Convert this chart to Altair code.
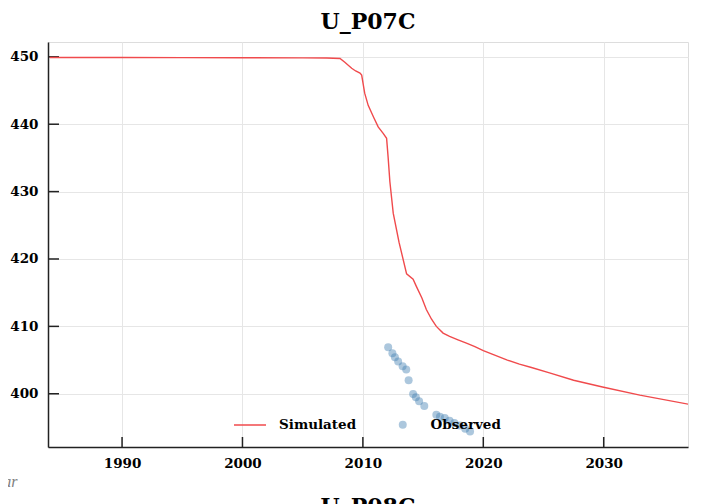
import altair as alt
import pandas as pd

# ---- data ----
sim_year = [1984.0, 1990.0, 1995.0, 2000.0, 2005.0, 2007.0, 2008.1, 2008.5, 2009.07, 2009.4,
            2009.76, 2009.9, 2010.15, 2010.44, 2010.9, 2011.27, 2011.7, 2011.97, 2012.1, 2012.24,
            2012.52, 2013.0, 2013.63, 2014.17, 2014.45, 2014.9, 2015.27, 2015.69, 2016.1, 2016.66,
            2017.2, 2017.9, 2018.6, 2019.3, 2020.0, 2021.0, 2022.0, 2023.0, 2024.0, 2025.5,
            2027.5, 2029.9, 2033.0, 2037.2]
sim_head = [449.9, 449.9, 449.88, 449.86, 449.85, 449.83, 449.75, 449.2, 448.3, 447.9,
            447.6, 447.3, 444.6, 442.8, 441.0, 439.6, 438.6, 437.9, 435.0, 431.5,
            426.8, 422.5, 417.8, 417.0, 415.9, 414.2, 412.5, 411.1, 410.0, 409.0,
            408.5, 408.0, 407.5, 407.0, 406.4, 405.7, 405.0, 404.4, 403.9, 403.1,
            402.0, 401.0, 399.8, 398.4]

obs_year = [2012.1, 2012.45, 2012.66, 2012.93, 2013.3, 2013.6, 2013.8, 2014.17, 2014.4, 2014.67,
            2015.1, 2016.1, 2016.4, 2016.8, 2017.2, 2017.6, 2018.05, 2018.5, 2018.9]
obs_head = [406.9, 406.0, 405.4, 404.8, 404.1, 403.6, 402.0, 399.96, 399.5, 398.9,
            398.2, 396.9, 396.6, 396.4, 396.0, 395.65, 395.3, 394.8, 394.4]

x_ticks = [1990, 2000, 2010, 2020, 2030]
y_ticks = [400, 410, 420, 430, 440, 450]

title_text = ["U_P07C"]
next_title = ["U_P08C"]
neighbour_xtitle = ["Year"]

# ---- chart ----
W, H = 640, 405
FONT = "DejaVu Serif"
DARK = "#222222"

xscale = alt.Scale(domain=[1983.85, 2037.0], nice=False, zero=False)
yscale = alt.Scale(domain=[392.1, 452.2], nice=False, zero=False)

axis_common = dict(grid=True, gridColor="#e6e6e6", gridWidth=1, ticks=False,
                   domainColor=DARK, domainWidth=1.5, labelFont=FONT,
                   labelFontWeight="bold", labelFontSize=13.5, labelColor="black",
                   title=None)

sim_df = pd.DataFrame({"year": sim_year, "head": sim_head, "series": "Simulated"})
obs_df = pd.DataFrame({"year": obs_year, "head": obs_head, "series": "Observed"})

legend_common = dict(orient="none", title=None, labelFont=FONT, labelFontWeight="bold",
                     labelFontSize=13.5, labelColor="black", padding=0, offset=0)

line = alt.Chart(sim_df).mark_line(strokeWidth=1.4, clip=True).encode(
    x=alt.X("year:Q", scale=xscale,
            axis=alt.Axis(values=x_ticks, format="d", labelPadding=9, **axis_common)),
    y=alt.Y("head:Q", scale=yscale,
            axis=alt.Axis(values=y_ticks, format="d", labelPadding=10, **axis_common)),
    color=alt.Color("series:N",
                    scale=alt.Scale(domain=["Simulated"], range=["#f04a4c"]),
                    legend=alt.Legend(legendX=185, legendY=366, symbolType="stroke",
                                      symbolSize=1024, symbolStrokeWidth=1.5,
                                      labelOffset=12, **legend_common)),
)

pts = alt.Chart(obs_df).mark_circle(size=64, opacity=0.45).encode(
    x=alt.X("year:Q"),
    y=alt.Y("head:Q"),
    color=alt.Color("series:N",
                    scale=alt.Scale(domain=["Observed"], range=["#4682b4"]),
                    legend=alt.Legend(legendX=348, legendY=376, symbolType="circle",
                                      symbolSize=64, symbolOpacity=0.45,
                                      labelOffset=21, **legend_common)),
)

xt = alt.Chart(pd.DataFrame({"t": x_ticks})).mark_rule(color=DARK, strokeWidth=1.5).encode(
    x=alt.X("t:Q"), y=alt.value(H - 10), y2=alt.value(H))
yt = alt.Chart(pd.DataFrame({"v": y_ticks})).mark_rule(color=DARK, strokeWidth=1.5).encode(
    y=alt.Y("v:Q"), x=alt.value(0), x2=alt.value(11))

ttl = alt.Chart(pd.DataFrame({"label": title_text})).mark_text(
    font=FONT, fontSize=22, fontWeight="bold", baseline="alphabetic", color="black").encode(
    text="label:N", x=alt.value(W / 2), y=alt.value(-13))
nxt = alt.Chart(pd.DataFrame({"label": next_title})).mark_text(
    font=FONT, fontSize=22, fontWeight="bold", baseline="top", color="black").encode(
    text="label:N", x=alt.value(W / 2), y=alt.value(455))
yr = alt.Chart(pd.DataFrame({"label": neighbour_xtitle})).mark_text(
    font="Liberation Serif", fontSize=16, fontStyle="italic", align="right",
    baseline="alphabetic", color="#808080").encode(
    text="label:N", x=alt.value(-30.5), y=alt.value(445))

chart = alt.layer(xt, yt, line, pts, ttl, nxt, yr).resolve_scale(color="independent").properties(
    width=W, height=H,
    padding={"left": 40, "top": 34, "right": 5, "bottom": 60},
    autosize=alt.AutoSizeParams(type="none"),
).configure_view(stroke=None).configure(background="white")

chart.save("out.html", embed_options={"renderer": "svg", "actions": False})
